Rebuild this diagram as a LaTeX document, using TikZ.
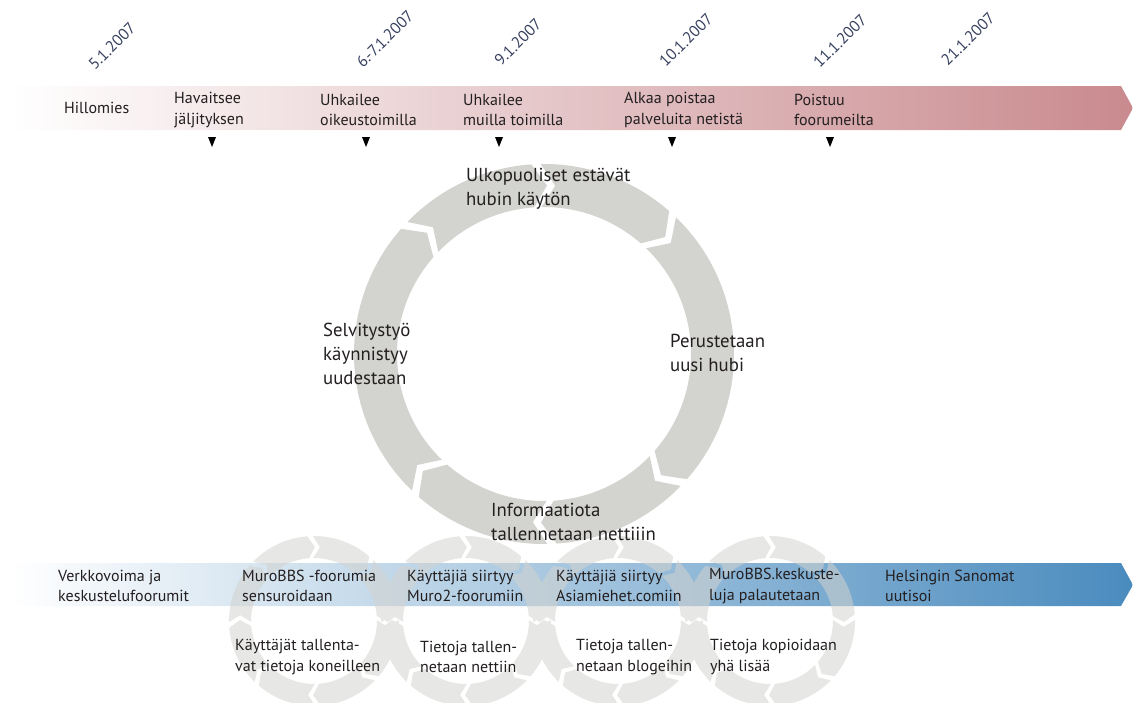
\documentclass[tikz,border=0pt]{standalone}
\usepackage{fontspec}
\setmainfont{PT Sans}
\definecolor{ringgray}{HTML}{D3D3CF}
\definecolor{txt}{HTML}{231F20}
\definecolor{datecol}{HTML}{37405F}
\definecolor{rose}{HTML}{C98A8E}
\definecolor{steel}{HTML}{4A8BBE}
% ring segment: #1 inner r, #2 outer r, #3 start angle, #4 end angle, #5 half gap (deg), #6 chevron depth (deg)
\newcommand{\ringseg}[6]{%
  \pgfmathsetmacro{\tA}{#3+#5-#6/2}%
  \pgfmathsetmacro{\nA}{#3+#5+#6/2}%
  \pgfmathsetmacro{\hA}{#4-#5-#6/2}%
  \pgfmathsetmacro{\pA}{#4-#5+#6/2}%
  \pgfmathsetmacro{\rM}{(#1+#2)/2}%
  \fill (\tA:#2) arc[start angle=\tA, end angle=\hA, radius=#2] -- (\pA:\rM)
    -- (\hA:#1) arc[start angle=\hA, end angle=\tA, radius=#1] -- (\nA:\rM) -- cycle;
}
\begin{document}
\begin{tikzpicture}[x=1pt,y=-1pt,
  bartext/.style={anchor=west, align=left, inner sep=0pt, font=\fontsize{16}{20.5}\selectfont, text=txt},
  cyctext/.style={anchor=west, align=left, inner sep=0pt, font=\fontsize{18.8}{24}\selectfont, text=txt},
  datetext/.style={rotate=45, inner sep=0pt, font=\fontsize{16}{18}\selectfont, text=datecol},
  marker/.style={fill=black}]
\useasboundingbox (0,0) rectangle (1133,702);
% top bar
\shade[left color=white, middle color=rose!55, right color=rose] (10,86) -- (1121,86) -- (1133,108) -- (1121,130) -- (10,130) -- cycle;
% big cycle
\begin{scope}[shift={(544,354)}, fill=ringgray]
  \ringseg{147}{190}{-90}{-45}{1.4}{4.8}
  \ringseg{147}{190}{-45}{45}{1.4}{4.8}
  \ringseg{147}{190}{45}{90}{1.4}{4.8}
  \ringseg{147}{190}{90}{135}{1.4}{4.8}
  \ringseg{147}{190}{135}{225}{1.4}{4.8}
  \ringseg{147}{190}{225}{270}{1.4}{4.8}
\end{scope}
% bottom bar
\shade[left color=white, middle color=steel!55, right color=steel] (10,563) -- (1121,563) -- (1133,585) -- (1121,606) -- (10,606) -- cycle;
% small cycles
\begin{scope}[transparency group, opacity=0.55]
\foreach \cx in {314,466,618,770}{
  \begin{scope}[shift={(\cx,621)}, fill=ringgray]
    \foreach \a in {0,45,...,315}{
      \pgfmathsetmacro{\b}{\a+45}
      \ringseg{63}{85}{\a}{\b}{1.9}{5.3}
    }
  \end{scope}
}
\end{scope}
% markers
\foreach \x in {212,366,499,672,830}
  \fill[marker] (\x-4,137) -- (\x+4,137) -- (\x,147) -- cycle;
% dates
\node[datetext] (d1) at (112,46) {5.1.2007};
\node[datetext] (d2) at (385,39) {6.-7.1.2007};
\node[datetext] (d3) at (518,42) {9.1.2007};
\node[datetext] (d4) at (686,40) {10.1.2007};
\node[datetext] (d5) at (840,41) {11.1.2007};
\node[datetext] (d6) at (968,39) {21.1.2007};
% top bar texts
\node[bartext] (t1) at (64,108) {Hillomies};
\node[bartext] (t2) at (174,110) {Havaitsee\\jäljityksen};
\node[bartext] (t3) at (320,110) {Uhkailee\\oikeustoimilla};
\node[bartext] (t4) at (463,110) {Uhkailee\\muilla toimilla};
\node[bartext] (t5) at (624,110) {Alkaa poistaa\\palveluita netistä};
\node[bartext] (t6) at (794,110) {Poistuu\\foorumeilta};
% cycle texts
\node[cyctext] (c1) at (466,189) {Ulkopuoliset estävät\\hubin käytön};
\node[cyctext] (c2) at (670,353) {Perustetaan\\uusi hubi};
\node[cyctext] (c3) at (323,354) {Selvitystyö\\käynnistyy\\uudestaan};
\node[cyctext] (c4) at (491,522) {Informaatiota\\tallennetaan nettiiin};
% bottom bar texts
\node[bartext] (b1) at (58,586) {Verkkovoima ja\\keskustelufoorumit};
\node[bartext] (b2) at (242,586) {MuroBBS -foorumia\\sensuroidaan};
\node[bartext] (b3) at (407,586) {Käyttäjiä siirtyy\\Muro2-foorumiin};
\node[bartext] (b4) at (556,586) {Käyttäjiä siirtyy\\Asiamiehet.comiin};
\node[bartext] (b5) at (709,586) {MuroBBS.keskuste-\\luja palautetaan};
\node[bartext] (b6) at (885,586) {Helsingin Sanomat\\uutisoi};
% lower texts
\node[bartext] (l1) at (235,657) {Käyttäjät tallenta-\\vat tietoja koneilleen};
\node[bartext] (l2) at (420,657) {Tietoja tallen-\\netaan nettiin};
\node[bartext] (l3) at (576,657) {Tietoja tallen-\\netaan blogeihin};
\node[bartext] (l4) at (710,657) {Tietoja kopioidaan\\yhä lisää};
\end{tikzpicture}
\end{document}
